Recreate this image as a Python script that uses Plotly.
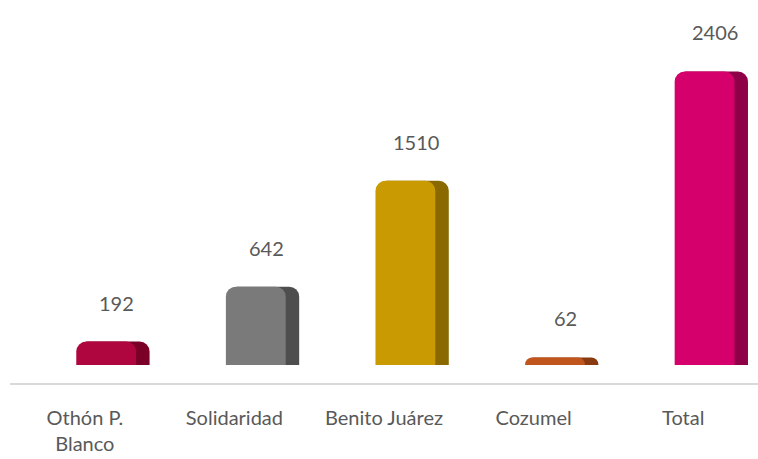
import plotly.graph_objects as go

categories = ["Othón P.<br>Blanco", "Solidaridad", "Benito Juárez", "Cozumel", "Total"]
values = [192, 642, 1510, 62, 2406]
front_colors = ["#B0063F", "#7A7A7A", "#C99A02", "#C0561E", "#D6006C"]
side_colors = ["#7A0028", "#4E4E4E", "#8A6900", "#8A3A10", "#8E0048"]
label_texts = [str(v) for v in values]

FONT = "Lato, Noto Sans, sans-serif"

fig = go.Figure()

# darker side face (gives a 3D look)
fig.add_trace(go.Bar(
    x=categories, y=values, width=0.48, offset=-0.047,
    marker=dict(color=side_colors, cornerradius=10, line=dict(width=0)),
    hoverinfo="skip", showlegend=False,
))
# front face
fig.add_trace(go.Bar(
    x=categories, y=values, width=0.40, offset=-0.057,
    marker=dict(color=front_colors, cornerradius=10, line=dict(width=0)),
    showlegend=False,
))

for c, v, t in zip(categories, values, label_texts):
    fig.add_annotation(
        x=c, y=v, text=t, showarrow=False, yanchor="bottom",
        yshift=25, xshift=32,
        font=dict(family=FONT, size=20, color="#595959"),
    )

fig.update_layout(
    width=758, height=459,
    margin=dict(l=10, r=0, t=10, b=76),
    plot_bgcolor="white", paper_bgcolor="white",
    barmode="overlay",
    font=dict(family=FONT, size=20, color="#595959"),
    xaxis=dict(
        showline=True, linecolor="#D9D9D9", linewidth=2,
        showgrid=False, ticks="", ticklabelstandoff=16, automargin=False,
        tickfont=dict(family=FONT, size=20, color="#595959"),
    ),
    yaxis=dict(
        range=[-148, 2910], visible=False, showgrid=False, zeroline=False,
    ),
)

fig.write_html("out.html", config={"displayModeBar": False},
               post_script="document.body.style.margin='0';")
